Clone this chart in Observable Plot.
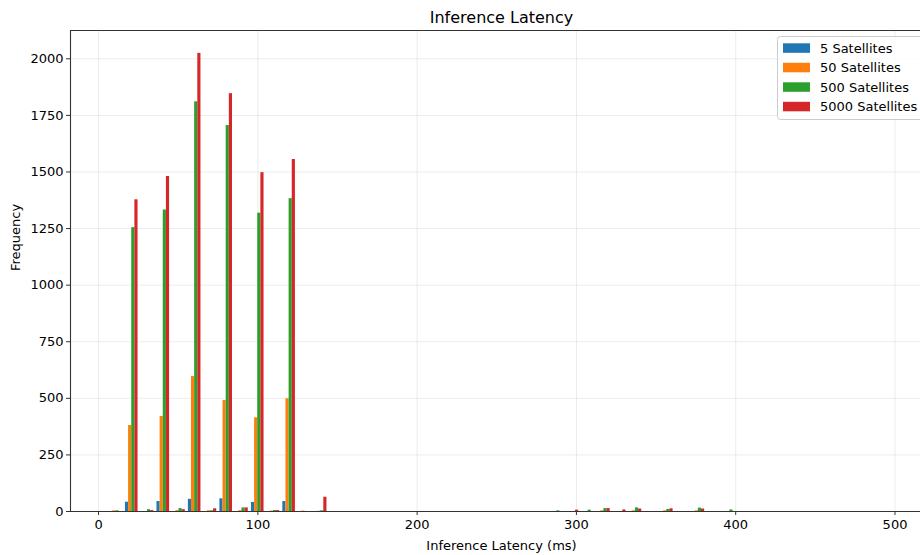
<!DOCTYPE html>
<html>
<head>
<meta charset="utf-8">
<script src="https://cdn.jsdelivr.net/npm/d3@7"></script>
<script src="https://cdn.jsdelivr.net/npm/@observablehq/plot@0.6"></script>
<style>
  html, body { margin: 0; padding: 0; background: white; overflow: hidden; }
  #chart svg { display: block; }
</style>
</head>
<body>
<div id="chart"></div>
<script>
// Series names and colours
const seriesNames = ["5 Satellites", "50 Satellites", "500 Satellites", "5000 Satellites"];
const seriesColors = ["#1f77b4", "#ff7f0e", "#2ca02c", "#d62728"];

// Histogram bins (lower edge in ms) that hold any counts; bin width in ms
const binWidth = 9.88;
const binStart = [6.0, 15.9, 25.8, 35.7, 45.6, 55.4, 65.3, 75.2, 85.1, 95.0, 104.8, 114.7, 124.6, 134.5,
                  282.7, 292.5, 302.4, 312.3, 322.2, 332.1, 351.8, 371.6, 391.4];

// Frequencies per bin for each series
const count5    = [0, 41, 0, 44, 0, 54, 0, 56, 0, 40, 0, 44, 0, 0,   0, 0, 0, 0, 0, 0, 0, 0, 0];
const count50   = [3, 380, 0, 420, 4, 596, 3, 490, 4, 414, 2, 498, 2, 1,   0, 0, 0, 3, 0, 3, 3, 3, 0];
const count500  = [3, 1254, 8, 1332, 13, 1810, 3, 1705, 16, 1318, 4, 1382, 0, 3,   3, 0, 6, 13, 0, 16, 9, 15, 7];
const count5000 = [0, 1377, 4, 1480, 8, 2024, 12, 1846, 16, 1497, 4, 1555, 0, 63,   0, 6, 0, 13, 7, 11, 12, 11, 0];

// Axis ticks
const xTicks = [0, 100, 200, 300, 400, 500];
const yTicks = [0, 250, 500, 750, 1000, 1250, 1500, 1750, 2000];
const xDomain = [-17.6, 516];
const yDomain = [0, 2125];

const counts = [count5, count50, count500, count5000];
const rows = [];
seriesNames.forEach((s, k) => {
  counts[k].forEach((c, i) => {
    if (c > 0) rows.push({series: s, k, start: binStart[i], count: c});
  });
});

const chart = Plot.plot({
  width: 920,
  height: 555,
  marginLeft: 70,
  marginRight: 0,
  marginTop: 30,
  marginBottom: 44,
  x: {domain: xDomain},
  y: {domain: yDomain},
  color: {domain: seriesNames, range: seriesColors},
  style: {fontFamily: "DejaVu Sans", fontSize: "13px", background: "white", color: "#000", overflow: "hidden"},
  marks: [
    Plot.gridX(xTicks, {stroke: "#b0b0b0", strokeOpacity: 0.3, strokeWidth: 0.8}),
    Plot.gridY(yTicks, {stroke: "#b0b0b0", strokeOpacity: 0.3, strokeWidth: 0.8}),
    Plot.rectY(rows, {
      x1: d => d.start + binWidth * (0.1 + 0.2 * d.k),
      x2: d => d.start + binWidth * (0.3 + 0.2 * d.k),
      y: "count",
      fill: "series"
    }),
    Plot.axisX(xTicks, {tickSize: 4, tickPadding: 4, label: null, tickFormat: d => String(d), stroke: "#333"}),
    Plot.axisY(yTicks, {tickSize: 4, tickPadding: 3, label: null, tickFormat: d => String(d), stroke: "#333"}),
    Plot.ruleY([yDomain[0]], {stroke: "#333", strokeWidth: 1.1}),
    Plot.ruleY([yDomain[1]], {stroke: "#333", strokeWidth: 1.1}),
    Plot.ruleX([xDomain[0]], {stroke: "#333", strokeWidth: 1.1}),
    Plot.text(["Inference Latency"], {frameAnchor: "top", lineAnchor: "middle", dy: -13, dx: 6, fontSize: 16}),
    Plot.text(["Inference Latency (ms)"], {frameAnchor: "bottom", lineAnchor: "middle", dy: 34, dx: 6, fontSize: 13}),
    Plot.text(["Frequency"], {frameAnchor: "left", lineAnchor: "middle", dx: -55, rotate: -90, fontSize: 13})
  ]
});

document.getElementById("chart").appendChild(chart);

// Legend (upper right, clipped by the figure edge like the reference)
const svg = d3.select(chart);
const lg = svg.append("g")
  .attr("font-family", "DejaVu Sans")
  .attr("font-size", 13)
  .attr("text-anchor", "start");
lg.append("rect")
  .attr("x", 777.5).attr("y", 36.5).attr("width", 170).attr("height", 83)
  .attr("rx", 3).attr("fill", "white").attr("fill-opacity", 0.8)
  .attr("stroke", "#cccccc");
seriesNames.forEach((s, k) => {
  lg.append("rect")
    .attr("x", 783).attr("y", 43.3 + k * 19.5).attr("width", 27).attr("height", 9.5)
    .attr("fill", seriesColors[k]);
  lg.append("text")
    .attr("x", 820).attr("y", 48 + k * 19.5).attr("dy", "0.35em")
    .attr("text-anchor", "start")
    .attr("fill", "#000")
    .text(s);
});
</script>
</body>
</html>
